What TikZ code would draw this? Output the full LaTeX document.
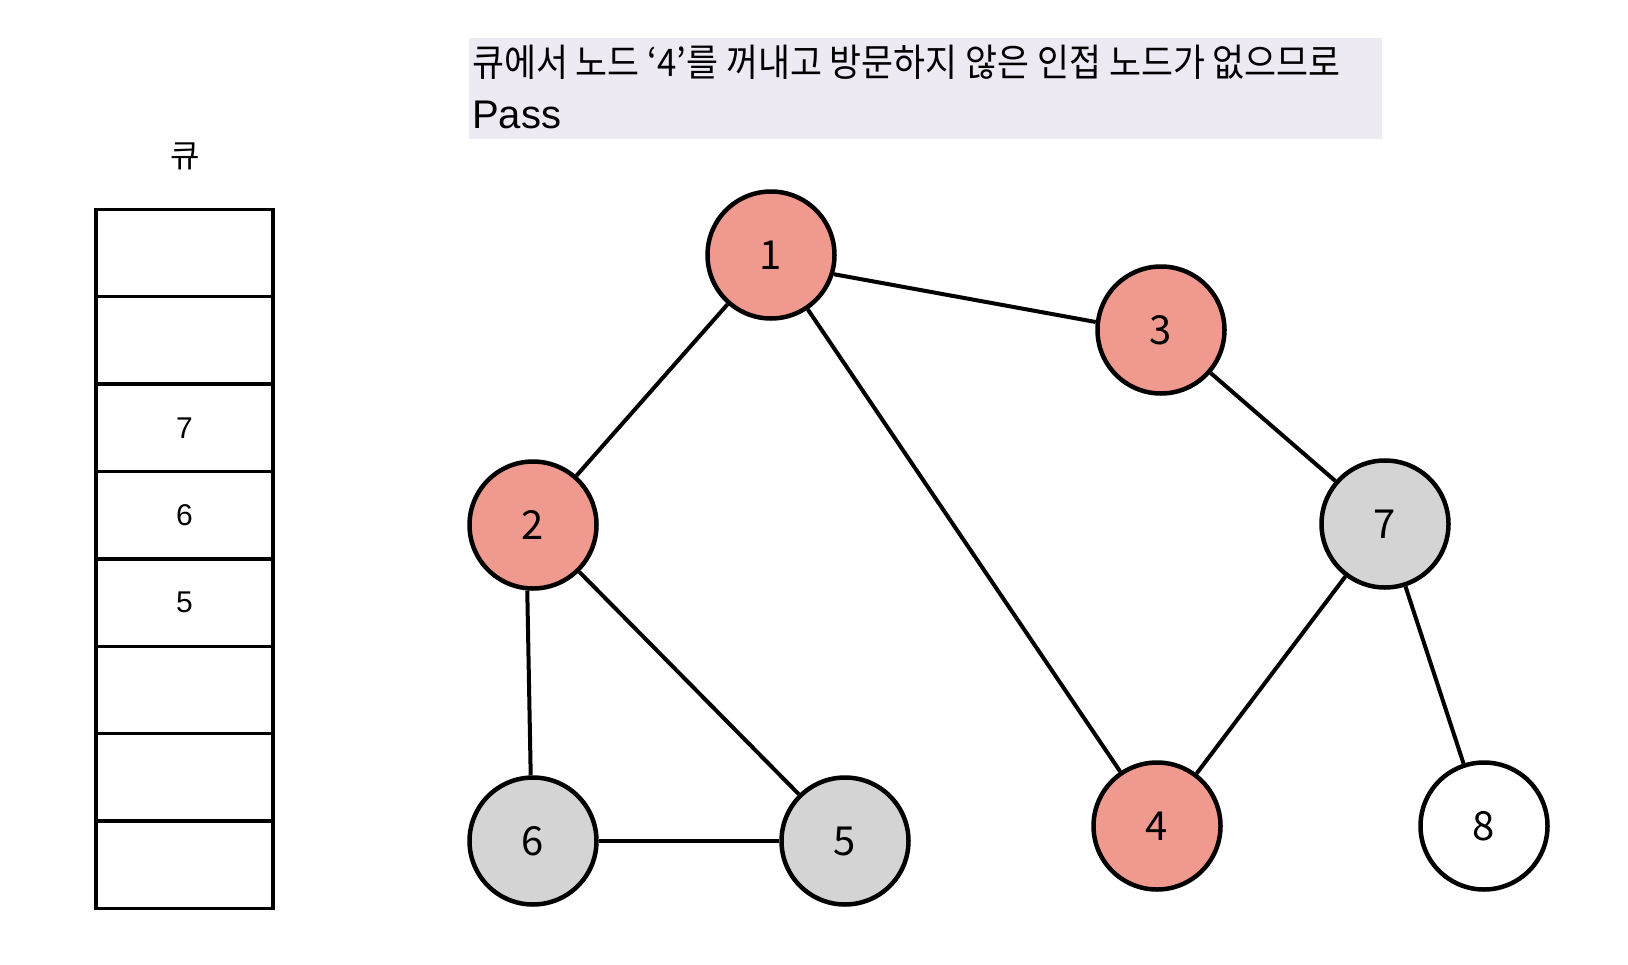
\documentclass[tikz,border=0pt]{standalone}
\usepackage{fontspec}
\newfontfamily\kr{Noto Sans CJK KR}
\newfontfamily\krn[FakeStretch=0.915]{Noto Sans CJK KR}
\newfontfamily\lsans{Liberation Sans}
\definecolor{visited}{RGB}{240,154,143}
\definecolor{queued}{RGB}{212,212,212}
\definecolor{notebg}{RGB}{237,234,244}
\begin{document}
\begin{tikzpicture}[x=1pt,y=-1pt,
  vert/.style={circle,draw=black,line width=4.5pt,minimum size=127pt,inner sep=0pt,font=\kr\fontsize{40}{40}\selectfont},
  red/.style={vert,fill=visited},
  gray/.style={vert,fill=queued},
  white/.style={vert,fill=white},
  edge/.style={line width=4pt},
  cell/.style={draw=black,line width=3.5pt,minimum width=177pt,minimum height=87.4pt,inner sep=0pt,font=\lsans\fontsize{30}{30}\selectfont}]
\useasboundingbox (0,0) rectangle (1628,964);
% note
\fill[notebg] (469,38) rectangle (1382,139);
\node[anchor=base west,inner sep=0pt,font=\krn\fontsize{38}{38}\selectfont] (t1) at (472,76) {큐에서 노드 ‘4’를 꺼내고 방문하지 않은 인접 노드가 없으므로};
\node[anchor=base west,inner sep=0pt,font=\lsans\fontsize{40}{40}\selectfont] (t2) at (472,128) {Pass};
% queue
\node[font=\kr\fontsize{32}{32}\selectfont] (ql) at (185,156) {큐};
\foreach \i/\t in {0/,1/,2/7,3/6,4/5,5/,6/,7/} {
  \node[cell] (q\i) at (184.5,{253+87.4*\i}) {\t};
}
% graph
\node[red] (n1) at (771,255) {1};
\node[red] (n3) at (1161,330) {3};
\node[red] (n2) at (533,525) {2};
\node[gray] (n7) at (1385,524) {7};
\node[gray] (n6) at (533,841) {6};
\node[gray] (n5) at (845,841) {5};
\node[red] (n4) at (1157,826) {4};
\node[white] (n8) at (1484,826) {8};
\draw[edge] (n1.-17) -- (n3.173);
\draw[edge] (n1) -- (n2);
\draw[edge] (n1) -- (n4);
\draw[edge] (n3) -- (n7);
\draw[edge] (n2.265) -- (n6.92);
\draw[edge] (n2) -- (n5);
\draw[edge] (n6) -- (n5);
\draw[edge] (n7) -- (n4);
\draw[edge] (n7) -- (n8);
\end{tikzpicture}
\end{document}
